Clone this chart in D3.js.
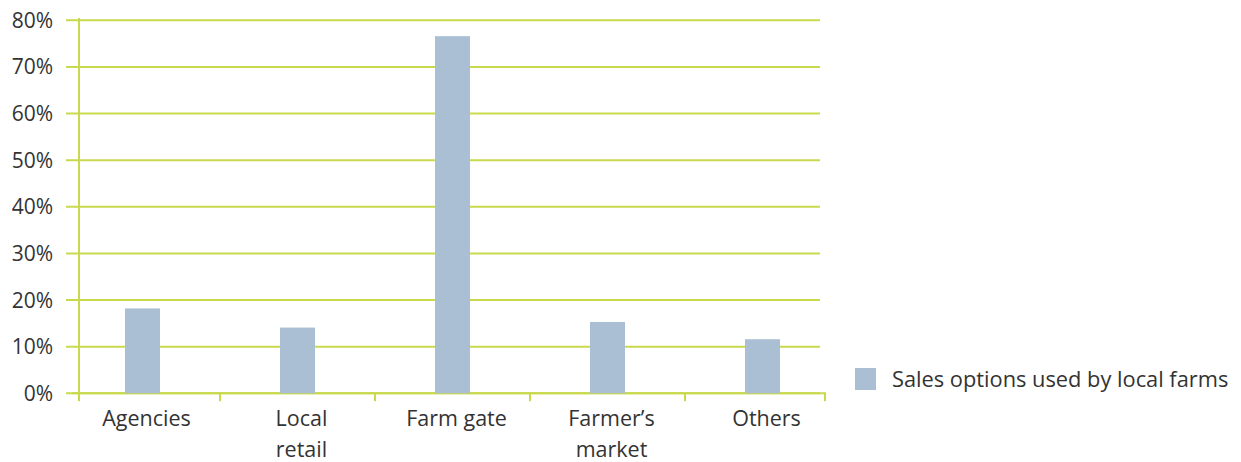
<!DOCTYPE html>
<html><head><meta charset="utf-8">
<script src="https://cdn.jsdelivr.net/npm/d3@7"></script>
<style>body{margin:0;background:#fff}svg{display:block}text{font-family:"Open Sans",Lato,sans-serif;fill:#333}</style>
</head><body>
<svg id="c" width="1241" height="462"></svg>
<script>
const categories = [["Agencies"],["Local","retail"],["Farm gate"],["Farmer’s","market"],["Others"]];
const values = [18.2, 14.1, 76.6, 15.3, 11.6];
const yTicks = [0,10,20,30,40,50,60,70,80];
const seriesName = "Sales options used by local farms";

const svg = d3.select("#c");
const gridColor = "#c9d94c", barColor = "#aabfd3";
const x = d3.scaleBand().domain(categories.map(c=>c.join(" "))).range([65,840]).paddingInner(0).paddingOuter(0);
const y = d3.scaleLinear().domain([0,80]).range([393.3,20.3]);

// gridlines
svg.append("g").selectAll("line").data(yTicks).join("line")
  .attr("x1",66).attr("x2",820).attr("y1",d=>y(d)).attr("y2",d=>y(d))
  .attr("stroke",gridColor).attr("stroke-width",2);
// y axis line
svg.append("line").attr("x1",79).attr("x2",79).attr("y1",18).attr("y2",401).attr("stroke",gridColor).attr("stroke-width",2);
// x axis line
svg.append("line").attr("x1",72).attr("x2",826).attr("y1",y(0)).attr("y2",y(0)).attr("stroke",gridColor).attr("stroke-width",2);
// x ticks at band boundaries
const tickXs = [79].concat(x.domain().slice(1).map(d=>x(d))).concat([825]);
svg.append("g").selectAll("line").data(tickXs).join("line")
  .attr("x1",d=>d).attr("x2",d=>d).attr("y1",y(0)).attr("y2",y(0)+8)
  .attr("stroke",gridColor).attr("stroke-width",2);

// y labels
svg.append("g").selectAll("text").data(yTicks).join("text")
  .attr("x",53).attr("y",d=>y(d)).attr("dy","0.36em").attr("text-anchor","end")
  .attr("font-size",21).text(d=>d+"%");

// bars
const bw = 35;
svg.append("g").selectAll("rect").data(values).join("rect")
  .attr("x",(d,i)=>x(categories[i].join(" "))+x.bandwidth()/2-bw/2)
  .attr("width",bw).attr("y",d=>y(d)).attr("height",d=>y(0)-y(d)).attr("fill",barColor);

// x labels
const xl = svg.append("g").selectAll("text").data(categories).join("text")
  .attr("x",d=>x(d.join(" "))+x.bandwidth()/2+4).attr("y",426).attr("text-anchor","middle").attr("font-size",21.5);
xl.selectAll("tspan").data(d=>d.map((t,i)=>({t,i,c:d}))).join("tspan")
  .attr("x",function(){return d3.select(this.parentNode).attr("x");})
  .attr("dy",d=>d.i===0?0:31).text(d=>d.t);

// legend
svg.append("rect").attr("x",855).attr("y",368).attr("width",21).attr("height",22).attr("fill",barColor);
svg.append("text").attr("x",892).attr("y",379).attr("dy","0.36em").attr("font-size",21.8).text(seriesName);
</script>
</body></html>
